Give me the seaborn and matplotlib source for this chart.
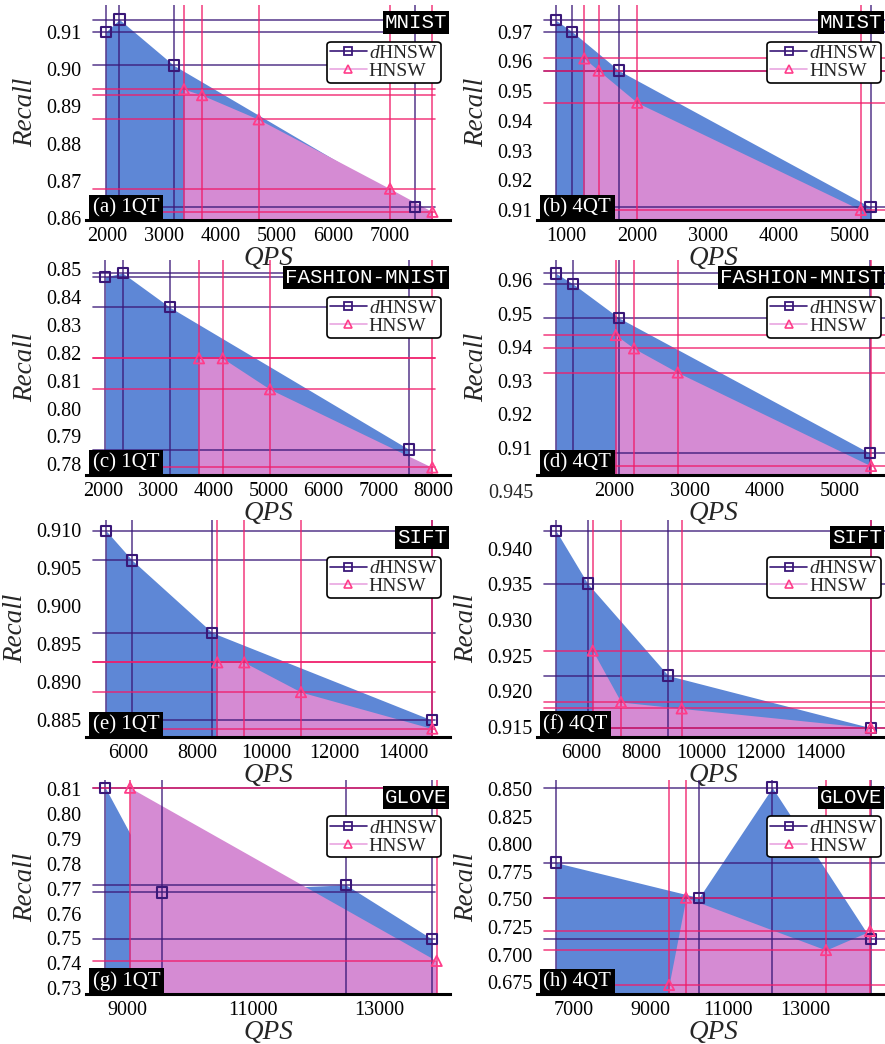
import numpy as np
import pandas as pd
import matplotlib
matplotlib.use("Agg")
import matplotlib.pyplot as plt
from matplotlib.lines import Line2D
import seaborn as sns

# Recall vs QPS, dHNSW against HNSW
# (a) MNIST 1QT
mnist1_d_qps = [1980, 2220, 3180, 7440]
mnist1_d_rec = [0.9100, 0.9133, 0.9010, 0.8630]
mnist1_h_qps = [3360, 3680, 4680, 7000, 7750]
mnist1_h_rec = [0.8946, 0.8930, 0.8865, 0.8679, 0.8617]
# (b) MNIST 4QT
mnist4_d_qps = [845, 1079, 1739, 5292]
mnist4_d_rec = [0.9739, 0.9700, 0.9569, 0.9109]
mnist4_h_qps = [1249, 1452, 1997, 5153]
mnist4_h_rec = [0.9610, 0.9569, 0.9461, 0.9100]
# (c) FASHION-MNIST 1QT
fash1_d_qps = [2036, 2353, 3207, 7564]
fash1_d_rec = [0.8472, 0.8485, 0.8363, 0.7853]
fash1_h_qps = [3740, 4171, 5031, 7982]
fash1_h_rec = [0.8180, 0.8180, 0.8069, 0.7789]
# (d) FASHION-MNIST 4QT
fash4_d_qps = [1225, 1455, 2062, 5400]
fash4_d_rec = [0.9620, 0.9588, 0.9487, 0.9083]
fash4_h_qps = [2019, 2262, 2843, 5414]
fash4_h_rec = [0.9436, 0.9396, 0.9324, 0.9045]
# (e) SIFT 1QT
sift1_d_qps = [5351, 6116, 8443, 14842]
sift1_d_rec = [0.9099, 0.9060, 0.8965, 0.8850]
sift1_h_qps = [8589, 9374, 11023, 14842]
sift1_h_rec = [0.8926, 0.8926, 0.8887, 0.8839]
# (f) SIFT 4QT
sift4_d_qps = [5137, 6201, 8908, 15701]
sift4_d_rec = [0.9425, 0.9351, 0.9222, 0.9149]
sift4_h_qps = [6369, 7319, 9357, 15701]
sift4_h_rec = [0.9257, 0.9185, 0.9176, 0.9149]
# (g) GLOVE 1QT
glove1_d_qps = [8643, 9541, 12474, 13848]
glove1_d_rec = [0.8105, 0.7685, 0.7715, 0.7497]
glove1_h_qps = [9037, 13918]
glove1_h_rec = [0.8105, 0.7410]
# (h) GLOVE 4QT
glove4_d_qps = [6552, 10255, 12153, 14701]
glove4_d_rec = [0.7833, 0.7516, 0.8512, 0.7142]
glove4_h_qps = [9478, 9918, 13543, 14683]
glove4_h_rec = [0.6726, 0.7516, 0.7042, 0.7214]

datasets = ["MNIST", "MNIST", "FASHION-MNIST", "FASHION-MNIST",
            "SIFT", "SIFT", "GLOVE", "GLOVE"]
panel_tags = ["(a) 1QT", "(b) 4QT", "(c) 1QT", "(d) 4QT",
              "(e) 1QT", "(f) 4QT", "(g) 1QT", "(h) 4QT"]
x_ticks = [
    [2000, 3000, 4000, 5000, 6000, 7000],
    [1000, 2000, 3000, 4000, 5000],
    [2000, 3000, 4000, 5000, 6000, 7000, 8000],
    [2000, 3000, 4000, 5000],
    [6000, 8000, 10000, 12000, 14000],
    [6000, 8000, 10000, 12000, 14000],
    [9000, 11000, 13000],
    [7000, 9000, 11000, 13000],
]
y_ticks = [
    [0.86, 0.87, 0.88, 0.89, 0.90, 0.91],
    [0.91, 0.92, 0.93, 0.94, 0.95, 0.96, 0.97],
    [0.78, 0.79, 0.80, 0.81, 0.82, 0.83, 0.84, 0.85],
    [0.91, 0.92, 0.93, 0.94, 0.95, 0.96],
    [0.885, 0.890, 0.895, 0.900, 0.905, 0.910],
    [0.915, 0.920, 0.925, 0.930, 0.935, 0.940],
    [0.73, 0.74, 0.75, 0.76, 0.77, 0.78, 0.79, 0.80, 0.81],
    [0.675, 0.700, 0.725, 0.750, 0.775, 0.800, 0.825, 0.850],
]
y_decimals = [2, 2, 2, 2, 3, 3, 2, 3]

series = [
    (mnist1_d_qps, mnist1_d_rec, mnist1_h_qps, mnist1_h_rec),
    (mnist4_d_qps, mnist4_d_rec, mnist4_h_qps, mnist4_h_rec),
    (fash1_d_qps, fash1_d_rec, fash1_h_qps, fash1_h_rec),
    (fash4_d_qps, fash4_d_rec, fash4_h_qps, fash4_h_rec),
    (sift1_d_qps, sift1_d_rec, sift1_h_qps, sift1_h_rec),
    (sift4_d_qps, sift4_d_rec, sift4_h_qps, sift4_h_rec),
    (glove1_d_qps, glove1_d_rec, glove1_h_qps, glove1_h_rec),
    (glove4_d_qps, glove4_d_rec, glove4_h_qps, glove4_h_rec),
]

# view limits of each panel
x_lims = [(1629, 8060), (581, 5566), (1685, 8304), (972, 5666),
          (4770, 15357), (4500, 16349), (8336, 14130), (6060, 15200)]
y_lims = [(0.8595, 0.9172), (0.9066, 0.9790), (0.7762, 0.8532), (0.9018, 0.9660),
          (0.8828, 0.9113), (0.9136, 0.9440), (0.7277, 0.8136), (0.6644, 0.8581)]

BLUE = "#5e87d6"
PINK = "#d58bd3"
PURPLE = "#3a1878"
CRIMSON = "#f01c6a"
TRI = "#ff3d8a"

sns.set_theme(style="white")
plt.rcParams["font.family"] = ["Liberation Serif", "DejaVu Serif"]
plt.rcParams["mathtext.fontset"] = "custom"
plt.rcParams["mathtext.rm"] = "Liberation Serif"
plt.rcParams["mathtext.it"] = "Liberation Serif:italic"

W, H = 885, 1044
fig = plt.figure(figsize=(W / 100, H / 100), dpi=100)

row_top = [5, 260, 520, 780]
row_bot = [220, 475, 737, 994]
col_left = [86, 537]
col_w = [364, 353]

for i in range(8):
    r, c = divmod(i, 2)
    ax = fig.add_axes([col_left[c] / W, 1 - row_bot[r] / H,
                       col_w[c] / W, (row_bot[r] - row_top[r]) / H])
    ax.patch.set_visible(False)  # let the QPS label of the row above show through
    dq, dr, hq, hr = series[i]
    ax.set_xlim(*x_lims[i])
    ax.set_ylim(*y_lims[i])
    ybase = y_lims[i][0]

    ax.fill_between(dq, dr, ybase, color=BLUE, lw=0, zorder=1)
    ax.fill_between(hq, hr, ybase, color=PINK, lw=0, zorder=2)

    hmax = 0.96 if c == 0 else 1.0
    for q, v in zip(dq, dr):
        ax.axvline(q, color=PURPLE, lw=1.2, alpha=0.8, zorder=3)
        ax.axhline(v, xmin=0.019, xmax=hmax, color=PURPLE, lw=1.2, alpha=0.8, zorder=3)
    for q, v in zip(hq, hr):
        ax.axvline(q, color=CRIMSON, lw=1.2, alpha=0.8, zorder=3)
        ax.axhline(v, xmin=0.019, xmax=hmax, color=CRIMSON, lw=1.2, alpha=0.8, zorder=3)

    sns.scatterplot(x=dq, y=dr, marker="s", s=55, facecolor="none",
                    edgecolor=PURPLE, linewidth=1.5, ax=ax, zorder=5, clip_on=False)
    sns.scatterplot(x=hq, y=hr, marker="^", s=55, facecolor="none",
                    edgecolor=TRI, linewidth=1.3, ax=ax, zorder=5, clip_on=False)

    ax.set_xticks(x_ticks[i])
    ax.set_xticklabels([str(t) for t in x_ticks[i]])
    ax.set_yticks(y_ticks[i])
    ax.set_yticklabels([f"{t:.{y_decimals[i]}f}" for t in y_ticks[i]])
    ax.tick_params(axis="both", length=0, labelsize=14.5, colors="black")
    ax.tick_params(axis="x", pad=5)
    ax.tick_params(axis="y", pad=3)
    ax.grid(False)
    for s in ["left", "top", "right"]:
        ax.spines[s].set_visible(False)
    ax.spines["bottom"].set_linewidth(2.2)
    ax.spines["bottom"].set_color("black")
    ax.spines["bottom"].set_zorder(8)

    ax.set_xlabel("QPS", style="italic", fontsize=19.5, labelpad=0)
    ax.set_ylabel("Recall", style="italic", fontsize=19.5, labelpad=6)

    handles = [
        Line2D([], [], color=PURPLE, lw=1.2, marker="s", ms=6, mfc="none",
               mec=PURPLE, mew=1.3),
        Line2D([], [], color="#e9a6e0", lw=1.2, marker="^", ms=6, mfc="none",
               mec=TRI, mew=1.2),
    ]
    leg = ax.legend(handles, ["$d$HNSW", "HNSW"], loc="upper right",
                    bbox_to_anchor=(0.975, 0.83), fontsize=14, frameon=True,
                    fancybox=True, framealpha=1, edgecolor="black",
                    handlelength=1.9, handletextpad=0.1, borderpad=0.15,
                    labelspacing=0.0, borderaxespad=0)
    leg.get_frame().set_linewidth(1.2)
    leg.set_zorder(10)

    lab_x = 0.992 if c == 0 else 0.978
    ax.text(lab_x, 0.963, datasets[i], transform=ax.transAxes, ha="right", va="top",
            family="Liberation Mono", fontsize=15, color="white", zorder=11,
            bbox=dict(fc="black", ec="none", pad=1.5))
    ax.text(0.018, 0.012, panel_tags[i], transform=ax.transAxes, ha="left", va="bottom",
            fontsize=15, color="white", zorder=11,
            bbox=dict(fc="black", ec="none", pad=2.5))

# stray tick label under panel (d)
fig.text(511 / W, 1 - 493 / H, "0.945", ha="center", va="center", fontsize=14.5)

fig.savefig("out.png", dpi=100)
